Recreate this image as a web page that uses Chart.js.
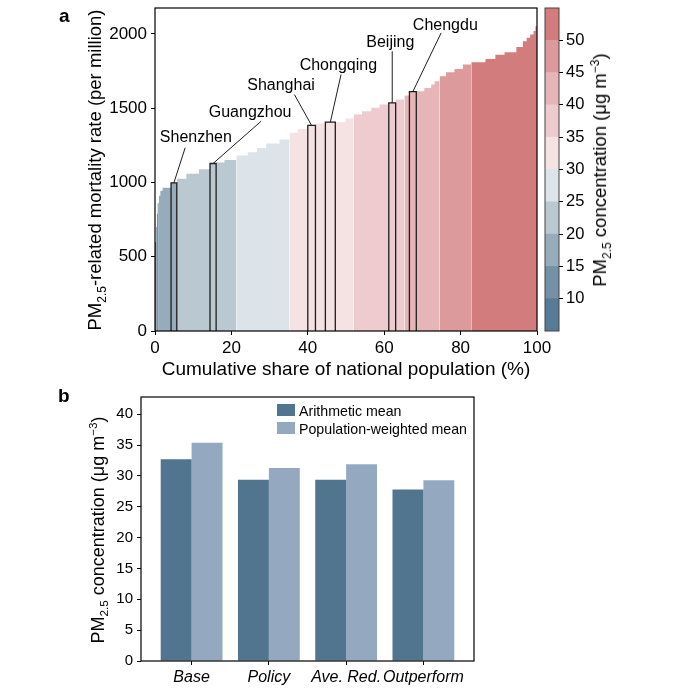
<!DOCTYPE html>
<html>
<head>
<meta charset="utf-8">
<script src="https://cdn.jsdelivr.net/npm/chart.js@4.4.0/dist/chart.umd.min.js"></script>
<style>
  body { margin: 0; background: #fff; }
  #page { position: relative; width: 684px; height: 696px; overflow: hidden;
          font-family: "Liberation Sans", Arial, sans-serif; color: #000; }
  #page canvas { position: absolute; }
  .txt { position: absolute; white-space: nowrap; transform: translate(-50%, -50%); }
  .vert { transform: translate(-50%, -50%) rotate(-90deg); }
  .tag { position: absolute; font-weight: bold; font-size: 19px; }
  sub, sup { font-size: 65%; line-height: 0; }
  .key { position: absolute; font-size: 14.2px; white-space: nowrap; }
  .key span { position: absolute; left: -22px; top: 1px; width: 18px; height: 12px; }
</style>
</head>
<body>
<div id="page">
  <canvas id="chartA" width="684" height="360" style="left:0;top:0"></canvas>
  <canvas id="chartC" width="184" height="360" style="left:500px;top:0"></canvas>
  <canvas id="chartB" width="684" height="316" style="left:0;top:380px"></canvas>

  <div class="tag" style="left:59px;top:5px">a</div>
  <div class="tag" style="left:58px;top:385px">b</div>

  <div class="txt vert" style="left:95px;top:170px;font-size:18.5px">PM<sub>2.5</sub>-related mortality rate (per million)</div>
  <div class="txt" style="left:346px;top:369px;font-size:19px">Cumulative share of national population (%)</div>
  <div class="txt vert" style="left:600px;top:170px;font-size:18.5px">PM<sub>2.5</sub> concentration (μg m<sup>−3</sup>)</div>
  <div class="txt vert" style="left:98px;top:530px;font-size:18px">PM<sub>2.5</sub> concentration (μg m<sup>−3</sup>)</div>

  <div class="key" style="left:299px;top:403px"><span style="background:#52758f"></span>Arithmetic mean</div>
  <div class="key" style="left:299px;top:421px"><span style="background:#94a8c0"></span>Population-weighted mean</div>
</div>

<script>
// ---------- panel a : mortality rate vs cumulative population share ----------
// left edge (%) of each step and its rate (per million); last step runs to 100
const stepStart = [0, 0.3, 0.5, 0.7, 1.0, 1.4, 2.0, 4.2, 5.7, 8.2, 11.5, 14.4, 16.0, 18.2,
  21.3, 24.3, 26.7, 29.1, 32.6, 35.2, 37.4, 40.0, 42.0, 44.6, 47.2, 49.9, 52.0, 54.2,
  56.6, 58.8, 61.2, 63.0, 65.3, 66.6, 68.4, 70.5, 72.3, 73.2, 74.5, 76.2, 78.4, 80.6,
  82.8, 86.5, 89.1, 91.5, 94.6, 96.3, 97.3, 98.2, 99.1, 99.6];
const stepRate = [600, 700, 790, 860, 910, 945, 965, 998, 1025, 1059, 1090, 1128, 1135, 1152,
  1182, 1204, 1233, 1262, 1290, 1335, 1361, 1384, 1397, 1406, 1406, 1431, 1458, 1480,
  1503, 1525, 1536, 1559, 1585, 1612, 1615, 1637, 1660, 1682, 1715, 1742, 1765, 1794,
  1810, 1832, 1861, 1877, 1913, 1951, 1974, 1996, 2020, 2052];

// PM2.5 bands (ug/m3) and where each band begins along the population axis
const bandLow = [5, 10, 15, 20, 25, 30, 35, 40, 45, 50];
const bandStart = [0, 0.3, 1.0, 5.7, 21.3, 35.2, 52.0, 65.3, 74.5, 82.8];
const bandColors = ["#567b96", "#7491a6", "#97acbb", "#bac8d2", "#dce3e9",
  "#f5e2e3", "#eecbce", "#e6b5b7", "#dc9a9c", "#d37c7e"];

// highlighted cities
const cityNames = ["Shenzhen", "Guangzhou", "Shanghai", "Chongqing", "Beijing", "Chengdu"];
const cityStart = [4.2, 14.4, 40.0, 44.6, 61.2, 66.6];
const cityEnd = [5.7, 16.0, 42.0, 47.2, 63.0, 68.4];
const cityRate = [998, 1128, 1384, 1406, 1536, 1612];

const rateTicks = [0, 500, 1000, 1500, 2000];
const shareTicks = [0, 20, 40, 60, 80, 100];
const colorbarTicks = [10, 15, 20, 25, 30, 35, 40, 45, 50];

// ---------- panel b : mean PM2.5 per scenario ----------
const scenarios = ["Base", "Policy", "Ave. Red.", "Outperform"];
const arithmeticMean = [32.7, 29.4, 29.4, 27.8];
const weightedMean = [35.4, 31.3, 31.9, 29.3];
const concTicks = [0, 5, 10, 15, 20, 25, 30, 35, 40];

// label placement for the city call-outs (data units): label x, label y, line start x, line start y
const labelSpots = [
  [10.7, 1303, 7.9, 1234],
  [24.9, 1468, 27.8, 1413],
  [33.0, 1650, 36.5, 1592],
  [48.0, 1787, 48.7, 1727],
  [61.6, 1939, 62.1, 1884],
  [76.0, 2056, 74.9, 2007]
];

const FONT = '"Liberation Sans", Arial, sans-serif';
Chart.defaults.font.family = FONT;
Chart.defaults.color = "#000";

function rateAt(x) {
  let r = stepRate[0];
  stepStart.forEach((s, i) => { if (s <= x + 1e-9) r = stepRate[i]; });
  return r;
}

// one stepped area per concentration band
const bandSets = bandStart.map((s, b) => {
  const e = b + 1 < bandStart.length ? bandStart[b + 1] : 100;
  const pts = [];
  stepStart.forEach((x, i) => { if (x >= s && x < e) pts.push({ x: x, y: stepRate[i] }); });
  if (!pts.length || pts[0].x > s) pts.unshift({ x: s, y: rateAt(s) });
  pts.push({ x: e, y: pts[pts.length - 1].y });
  return {
    data: pts, stepped: "before", fill: "origin", order: 2,
    backgroundColor: bandColors[b], borderColor: "rgba(0,0,0,0)", borderWidth: 0,
    pointRadius: 0
  };
});

// outline boxes for the cities
const citySets = cityNames.map((n, i) => ({
  label: n,
  data: [
    { x: cityStart[i], y: 0 }, { x: cityStart[i], y: cityRate[i] },
    { x: cityEnd[i], y: cityRate[i] }, { x: cityEnd[i], y: 0 }
  ],
  fill: false, order: 1, borderColor: "#1e1e1e", borderWidth: 1.3, pointRadius: 0
}));

// draws the full frame round the plot area
const framePlugin = {
  id: "frame",
  afterDraw(chart, args, opts) {
    const a = chart.chartArea, ctx = chart.ctx;
    ctx.save();
    ctx.strokeStyle = opts.color || "#000";
    ctx.lineWidth = opts.width || 1.2;
    ctx.strokeRect(a.left, a.top, a.right - a.left, a.bottom - a.top);
    ctx.restore();
  }
};

const cityLabelPlugin = {
  id: "cityLabels",
  afterDatasetsDraw(chart) {
    const ctx = chart.ctx, x = chart.scales.x, y = chart.scales.y;
    ctx.save();
    ctx.strokeStyle = "#1e1e1e";
    ctx.lineWidth = 1;
    ctx.fillStyle = "#000";
    ctx.font = "16px " + FONT;
    ctx.textAlign = "center";
    ctx.textBaseline = "middle";
    cityNames.forEach((name, i) => {
      const sp = labelSpots[i];
      const bx = x.getPixelForValue((cityStart[i] + cityEnd[i]) / 2);
      const by = y.getPixelForValue(cityRate[i]);
      ctx.beginPath();
      ctx.moveTo(x.getPixelForValue(sp[2]), y.getPixelForValue(sp[3]));
      ctx.lineTo(bx, by);
      ctx.stroke();
      ctx.fillText(name, x.getPixelForValue(sp[0]), y.getPixelForValue(sp[1]));
    });
    ctx.restore();
  }
};

function fixSize(prop, v) {
  return function (s) {
    s[prop] = v;
    s.paddingTop = 0; s.paddingBottom = 0; s.paddingLeft = 0; s.paddingRight = 0;
  };
}

function keepTicks(list) {
  return function (s) { s.ticks = list.map(v => ({ value: v })); };
}

const plain = v => String(v);
const tickGrid = { display: true, drawOnChartArea: false, drawTicks: true, tickLength: 4,
  color: "#000", lineWidth: 1, offset: false };

new Chart(document.getElementById("chartA"), {
  type: "line",
  data: { datasets: citySets.concat(bandSets) },
  options: {
    responsive: false,
    animation: false,
    layout: { padding: { left: 0, top: 8, right: 147, bottom: 0 } },
    plugins: { legend: { display: false }, tooltip: { enabled: false } },
    scales: {
      x: {
        type: "linear", min: 0, max: 100,
        grid: tickGrid, border: { display: false },
        afterBuildTicks: keepTicks(shareTicks),
        afterFit: fixSize("height", 29),
        ticks: { font: { size: 17 }, padding: 3, maxRotation: 0, callback: plain }
      },
      y: {
        type: "linear", min: 0, max: 2175,
        grid: tickGrid, border: { display: false },
        afterBuildTicks: keepTicks(rateTicks),
        afterFit: fixSize("width", 155),
        ticks: { font: { size: 17 }, padding: 4, callback: plain }
      }
    }
  },
  plugins: [framePlugin, cityLabelPlugin]
});

// colour bar: one floating bar per band
new Chart(document.getElementById("chartC"), {
  type: "bar",
  data: {
    labels: [""],
    datasets: bandLow.map((lo, b) => ({
      data: [[lo, lo + 5]], backgroundColor: bandColors[b], borderWidth: 0,
      grouped: false, barPercentage: 1, categoryPercentage: 1
    }))
  },
  options: {
    responsive: false,
    animation: false,
    layout: { padding: { left: 45, top: 8, right: 85, bottom: 29 } },
    plugins: { legend: { display: false }, tooltip: { enabled: false }, frame: { color: "#444", width: 1 } },
    scales: {
      x: { display: false },
      y: {
        position: "right", min: 5, max: 55,
        grid: tickGrid, border: { display: false },
        afterBuildTicks: keepTicks(colorbarTicks),
        afterFit: fixSize("width", 40),
        ticks: { font: { size: 16.5 }, padding: 3, callback: plain }
      }
    }
  },
  plugins: [framePlugin]
});

// panel b grouped bars on a numeric axis so the outer margins match
new Chart(document.getElementById("chartB"), {
  type: "bar",
  data: {
    datasets: [
      { label: "Arithmetic mean", data: arithmeticMean.map((v, i) => ({ x: i, y: v })),
        backgroundColor: "#52758f", borderWidth: 0 },
      { label: "Population-weighted mean", data: weightedMean.map((v, i) => ({ x: i, y: v })),
        backgroundColor: "#94a8c0", borderWidth: 0 }
    ]
  },
  options: {
    responsive: false,
    animation: false,
    categoryPercentage: 0.8,
    barPercentage: 1,
    layout: { padding: { left: 0, top: 17, right: 210, bottom: 0 } },
    plugins: { legend: { display: false }, tooltip: { enabled: false } },
    scales: {
      x: {
        type: "linear", min: -0.655, max: 3.655, offset: false,
        grid: tickGrid, border: { display: false },
        afterBuildTicks: keepTicks(scenarios.map((s, i) => i)),
        afterFit: fixSize("height", 35),
        ticks: { font: { size: 16, style: "italic" }, padding: 3, maxRotation: 0,
                 callback: v => scenarios[v] }
      },
      y: {
        min: 0, max: 42.8,
        grid: tickGrid, border: { display: false },
        afterBuildTicks: keepTicks(concTicks),
        afterFit: fixSize("width", 141),
        ticks: { font: { size: 15 }, padding: 4, callback: plain }
      }
    }
  },
  plugins: [framePlugin]
});
</script>
</body>
</html>
